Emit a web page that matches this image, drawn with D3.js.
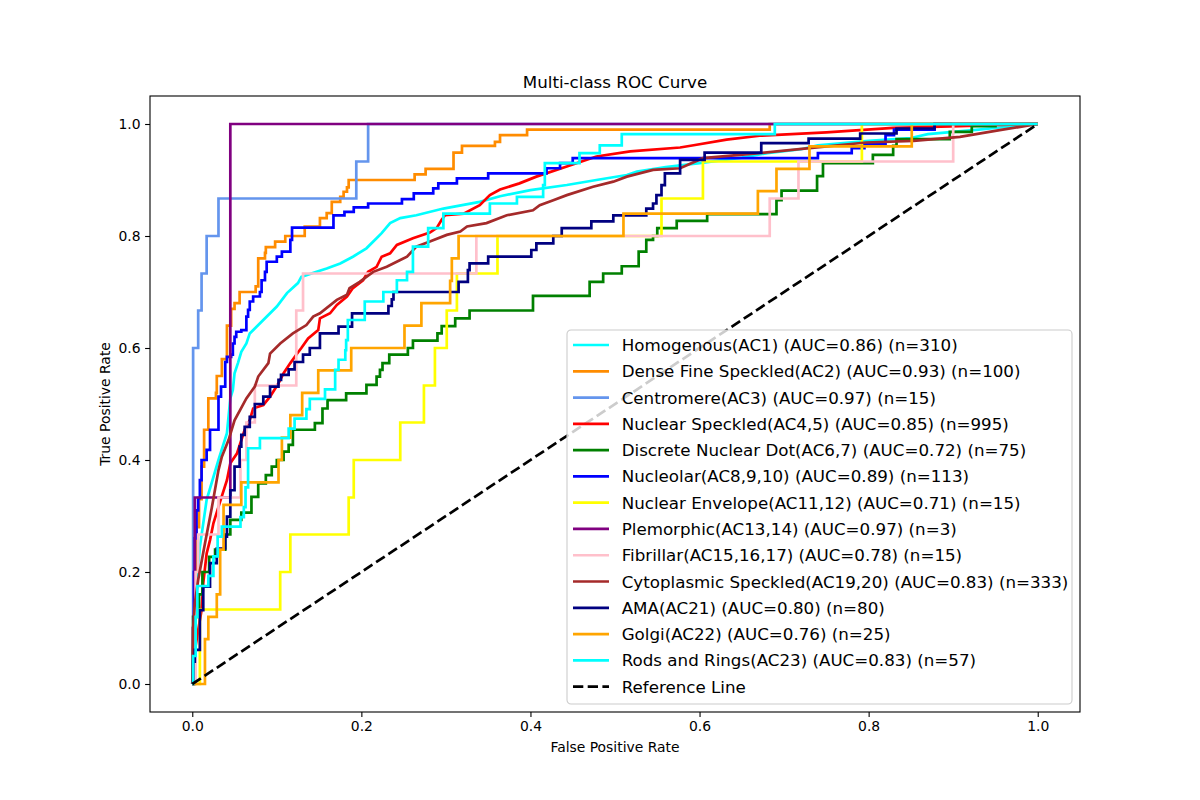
<!DOCTYPE html>
<html>
<head>
  <meta charset="utf-8">
  <title>Multi-class ROC Curve</title>
  <style>
    body { margin: 0; background: #fff; }
    text { font-family: "DejaVu Sans", sans-serif; fill: #000; }
    .axis path, .axis line { stroke: #000; stroke-width: 1.1; }
    .axis text { font-size: 13.9px; }
  </style>
</head>
<body>
  <svg width="1200" height="800"></svg>
  <script src="https://d3js.org/d3.v7.min.js"></script>
  <script>
    // class labels, AUC and sample counts as printed in the legend
    var classNames = ["Homogenous(AC1)", "Dense Fine Speckled(AC2)", "Centromere(AC3)",
      "Nuclear Speckled(AC4,5)", "Discrete Nuclear Dot(AC6,7)", "Nucleolar(AC8,9,10)",
      "Nuclear Envelope(AC11,12)", "Plemorphic(AC13,14)", "Fibrillar(AC15,16,17)",
      "Cytoplasmic Speckled(AC19,20)", "AMA(AC21)", "Golgi(AC22)", "Rods and Rings(AC23)"];
    var aucValues = [0.86, 0.93, 0.97, 0.85, 0.72, 0.89, 0.71, 0.97, 0.78, 0.83, 0.80, 0.76, 0.83];
    var sampleCounts = [310, 100, 15, 995, 75, 113, 15, 3, 15, 333, 80, 25, 57];
    var tickValues = [0.0, 0.2, 0.4, 0.6, 0.8, 1.0];

    // [fpr, tpr]
    var rocHomogenous = [[0,0],[0.001,0.06],[0.003,0.144],[0.009,0.245],[0.017,0.329],[0.031,0.4],[0.041,0.448],[0.045,0.51],[0.048,0.525],[0.05,0.555],[0.054,0.573],[0.058,0.593],[0.064,0.608],[0.068,0.626],[0.076,0.638],[0.084,0.65],[0.1,0.674],[0.112,0.698],[0.125,0.716],[0.129,0.727],[0.147,0.736],[0.159,0.742],[0.175,0.751],[0.19,0.763],[0.206,0.778],[0.218,0.796],[0.224,0.805],[0.234,0.823],[0.246,0.832],[0.265,0.837],[0.297,0.849],[0.34,0.861],[0.364,0.871],[0.4,0.882],[0.443,0.891],[0.478,0.9],[0.514,0.909],[0.526,0.915],[0.56,0.923],[0.6,0.93],[0.65,0.94],[0.68,0.948],[0.72,0.955],[0.74,0.962],[0.8,0.97],[0.85,0.975],[0.87,0.982],[0.93,0.99],[0.97,0.996],[1,1]];
    var rocDenseFine = [[0,0],[0.001,0.1],[0.003,0.2],[0.005,0.28],[0.008,0.33],[0.011,0.388],[0.014,0.454],[0.019,0.51],[0.028,0.52],[0.029,0.55],[0.035,0.58],[0.041,0.64],[0.046,0.67],[0.05,0.68],[0.056,0.7],[0.075,0.71],[0.078,0.76],[0.086,0.77],[0.087,0.78],[0.098,0.79],[0.11,0.8],[0.133,0.817],[0.151,0.832],[0.159,0.841],[0.165,0.861],[0.175,0.87],[0.179,0.879],[0.183,0.887],[0.185,0.9],[0.263,0.91],[0.276,0.92],[0.309,0.949],[0.319,0.961],[0.358,0.968],[0.364,0.98],[0.396,0.99],[0.683,1],[1,1]];
    var rocCentromere = [[0,0],[0.001,0.4],[0.001,0.6],[0.007,0.667],[0.011,0.733],[0.017,0.8],[0.031,0.867],[0.194,0.933],[0.208,1],[1,1]];
    var rocNuclearSpeckled = [[0,0],[0.002,0.05],[0.007,0.096],[0.011,0.132],[0.013,0.18],[0.017,0.233],[0.021,0.257],[0.025,0.287],[0.033,0.326],[0.041,0.364],[0.045,0.394],[0.053,0.412],[0.062,0.454],[0.068,0.471],[0.072,0.492],[0.084,0.498],[0.092,0.513],[0.102,0.537],[0.108,0.555],[0.116,0.573],[0.123,0.588],[0.129,0.6],[0.137,0.617],[0.149,0.632],[0.151,0.653],[0.163,0.662],[0.171,0.677],[0.183,0.692],[0.19,0.707],[0.202,0.721],[0.208,0.736],[0.218,0.745],[0.224,0.763],[0.234,0.769],[0.242,0.784],[0.261,0.796],[0.281,0.806],[0.289,0.814],[0.295,0.829],[0.299,0.837],[0.321,0.84],[0.34,0.855],[0.352,0.873],[0.364,0.883],[0.387,0.894],[0.407,0.906],[0.443,0.924],[0.478,0.942],[0.518,0.951],[0.577,0.958],[0.593,0.962],[0.632,0.972],[0.671,0.979],[0.75,0.985],[0.829,0.993],[0.908,0.996],[0.99,1],[1,1]];
    var rocDiscreteDot = [[0,0],[0.001,0.12],[0.008,0.16],[0.012,0.2],[0.02,0.227],[0.027,0.24],[0.039,0.267],[0.045,0.293],[0.058,0.306],[0.07,0.334],[0.078,0.358],[0.087,0.373],[0.094,0.388],[0.1,0.4],[0.108,0.415],[0.114,0.427],[0.119,0.454],[0.145,0.466],[0.154,0.492],[0.16,0.507],[0.182,0.519],[0.206,0.534],[0.218,0.549],[0.222,0.561],[0.225,0.573],[0.233,0.588],[0.255,0.6],[0.261,0.613],[0.29,0.626],[0.295,0.639],[0.311,0.653],[0.328,0.667],[0.403,0.693],[0.47,0.718],[0.486,0.733],[0.508,0.746],[0.528,0.772],[0.537,0.793],[0.545,0.8],[0.55,0.814],[0.573,0.827],[0.609,0.839],[0.691,0.864],[0.697,0.881],[0.739,0.907],[0.746,0.93],[0.805,0.945],[0.829,0.961],[0.833,0.973],[0.896,0.986],[0.922,0.996],[0.95,1],[1,1]];
    var rocNucleolar = [[0,0],[0.001,0.1],[0.002,0.2],[0.003,0.26],[0.005,0.31],[0.007,0.332],[0.009,0.364],[0.011,0.4],[0.017,0.418],[0.021,0.454],[0.031,0.513],[0.034,0.531],[0.039,0.575],[0.041,0.584],[0.046,0.588],[0.048,0.608],[0.05,0.62],[0.052,0.629],[0.058,0.632],[0.064,0.656],[0.066,0.668],[0.068,0.683],[0.072,0.692],[0.08,0.7],[0.082,0.721],[0.086,0.736],[0.088,0.754],[0.1,0.763],[0.106,0.772],[0.116,0.793],[0.118,0.815],[0.167,0.837],[0.18,0.843],[0.191,0.851],[0.208,0.858],[0.248,0.866],[0.262,0.876],[0.285,0.885],[0.291,0.894],[0.313,0.903],[0.35,0.912],[0.419,0.921],[0.435,0.93],[0.45,0.939],[0.74,0.948],[0.78,0.957],[0.795,0.965],[0.82,0.98],[0.83,0.99],[0.878,1],[1,1]];
    var rocNuclearEnvelope = [[0,0],[0.009,0.133],[0.104,0.2],[0.116,0.267],[0.185,0.333],[0.191,0.4],[0.246,0.467],[0.274,0.533],[0.287,0.6],[0.301,0.667],[0.313,0.733],[0.361,0.8],[0.555,0.867],[0.604,0.933],[0.792,1],[1,1]];
    var rocPlemorphic = [[0,0],[0.003,0.333],[0.045,1],[1,1]];
    var rocFibrillar = [[0,0],[0.004,0.2],[0.007,0.267],[0.031,0.333],[0.057,0.4],[0.064,0.467],[0.074,0.533],[0.123,0.667],[0.131,0.733],[0.336,0.8],[0.683,0.867],[0.717,0.933],[0.9,1],[1,1]];
    var rocCytoplasmic = [[0,0],[0.001,0.1],[0.003,0.144],[0.007,0.186],[0.015,0.251],[0.023,0.314],[0.031,0.382],[0.035,0.406],[0.043,0.436],[0.05,0.471],[0.064,0.51],[0.074,0.531],[0.078,0.549],[0.09,0.573],[0.092,0.59],[0.104,0.608],[0.119,0.626],[0.135,0.641],[0.143,0.656],[0.151,0.662],[0.171,0.686],[0.183,0.695],[0.186,0.707],[0.198,0.718],[0.214,0.736],[0.23,0.745],[0.246,0.757],[0.254,0.763],[0.265,0.781],[0.281,0.79],[0.301,0.802],[0.317,0.808],[0.325,0.817],[0.348,0.823],[0.372,0.837],[0.403,0.846],[0.411,0.855],[0.427,0.864],[0.443,0.873],[0.474,0.888],[0.498,0.897],[0.514,0.906],[0.545,0.918],[0.577,0.921],[0.604,0.939],[0.671,0.948],[0.73,0.957],[0.797,0.967],[0.853,0.97],[0.908,0.977],[0.955,0.989],[1,1]];
    var rocAMA = [[0,0],[0.001,0.04],[0.003,0.061],[0.009,0.132],[0.013,0.174],[0.021,0.216],[0.029,0.242],[0.039,0.263],[0.041,0.299],[0.045,0.346],[0.05,0.388],[0.056,0.424],[0.058,0.445],[0.062,0.459],[0.068,0.477],[0.074,0.5],[0.084,0.513],[0.092,0.531],[0.102,0.543],[0.105,0.552],[0.114,0.562],[0.121,0.575],[0.131,0.588],[0.139,0.6],[0.151,0.626],[0.173,0.638],[0.189,0.662],[0.232,0.675],[0.236,0.687],[0.238,0.7],[0.315,0.718],[0.326,0.739],[0.328,0.751],[0.35,0.763],[0.401,0.775],[0.407,0.787],[0.427,0.8],[0.437,0.814],[0.472,0.826],[0.498,0.837],[0.537,0.849],[0.545,0.858],[0.549,0.873],[0.555,0.891],[0.559,0.912],[0.577,0.936],[0.606,0.949],[0.673,0.966],[0.729,0.974],[0.79,0.983],[0.833,0.992],[0.878,1],[1,1]];
    var rocGolgi = [[0,0],[0.015,0.08],[0.019,0.12],[0.029,0.16],[0.033,0.24],[0.037,0.32],[0.058,0.36],[0.102,0.4],[0.106,0.44],[0.116,0.48],[0.13,0.52],[0.149,0.56],[0.188,0.6],[0.251,0.64],[0.271,0.68],[0.305,0.72],[0.307,0.76],[0.315,0.8],[0.51,0.84],[0.669,0.88],[0.691,0.92],[0.73,0.96],[0.851,1],[1,1]];
    var rocRodsRings = [[0,0],[0.001,0.05],[0.004,0.12],[0.006,0.175],[0.019,0.193],[0.025,0.228],[0.03,0.263],[0.035,0.281],[0.057,0.298],[0.061,0.316],[0.063,0.351],[0.066,0.421],[0.08,0.439],[0.114,0.456],[0.121,0.474],[0.135,0.491],[0.139,0.509],[0.157,0.526],[0.169,0.561],[0.173,0.579],[0.181,0.596],[0.182,0.614],[0.184,0.65],[0.204,0.683],[0.226,0.7],[0.242,0.721],[0.254,0.736],[0.261,0.781],[0.279,0.814],[0.297,0.84],[0.352,0.858],[0.384,0.87],[0.415,0.891],[0.417,0.93],[0.458,0.948],[0.482,0.962],[0.508,0.982],[0.689,1],[1,1]];
    var referenceLine = [[0,0],[1,1]];

    var rocSeries = [rocHomogenous, rocDenseFine, rocCentromere, rocNuclearSpeckled, rocDiscreteDot,
      rocNucleolar, rocNuclearEnvelope, rocPlemorphic, rocFibrillar, rocCytoplasmic, rocAMA, rocGolgi, rocRodsRings];

    // styling
    var colors = ["aqua", "darkorange", "cornflowerblue", "red", "green", "blue", "yellow",
      "purple", "pink", "brown", "navy", "orange", "aqua"];
    var smoothCurves = [0, 3, 9]; // many samples, drawn point to point

    var svg = d3.select("svg"),
      margin = { top: 96, right: 120, bottom: 88, left: 150 },
      width = +svg.attr("width") - margin.left - margin.right,
      height = +svg.attr("height") - margin.top - margin.bottom;

    svg.append("rect").attr("width", 1200).attr("height", 800).attr("fill", "#fff");

    var x = d3.scaleLinear().domain([-0.05, 1.05]).range([0, width]),
      y = d3.scaleLinear().domain([-0.05, 1.05]).range([height, 0]);

    var g = svg.append("g")
      .attr("transform", "translate(" + margin.left + "," + margin.top + ")");

    g.append("defs").append("clipPath").attr("id", "clip")
      .append("rect").attr("width", width).attr("height", height);

    var plot = g.append("g").attr("clip-path", "url(#clip)");

    rocSeries.forEach(function(pts, i) {
      var line = d3.line()
        .x(function(d) { return x(d[0]); })
        .y(function(d) { return y(d[1]); })
        .curve(smoothCurves.indexOf(i) >= 0 ? d3.curveLinear : d3.curveStepAfter);
      plot.append("path")
        .datum(pts)
        .attr("fill", "none")
        .attr("stroke", colors[i])
        .attr("stroke-width", 2.7)
        .attr("stroke-linejoin", "miter")
        .attr("d", line);
    });

    plot.append("path")
      .datum(referenceLine)
      .attr("fill", "none")
      .attr("stroke", "#000")
      .attr("stroke-width", 2.7)
      .attr("stroke-dasharray", "10.3,4.4")
      .attr("d", d3.line().x(function(d) { return x(d[0]); }).y(function(d) { return y(d[1]); }));

    // axes
    g.append("g")
      .attr("class", "axis")
      .attr("transform", "translate(0," + height + ")")
      .call(d3.axisBottom(x).tickValues(tickValues).tickFormat(d3.format(".1f"))
        .tickSize(4.9).tickSizeOuter(0).tickPadding(4.5));
    g.append("g")
      .attr("class", "axis")
      .call(d3.axisLeft(y).tickValues(tickValues).tickFormat(d3.format(".1f"))
        .tickSize(4.9).tickSizeOuter(0).tickPadding(4.5));
    g.selectAll(".axis .domain").remove();

    g.append("rect")
      .attr("width", width).attr("height", height)
      .attr("fill", "none").attr("stroke", "#000").attr("stroke-width", 1.1);

    svg.append("text")
      .attr("x", margin.left + width / 2).attr("y", 88)
      .attr("text-anchor", "middle").style("font-size", "16.7px")
      .text("Multi-class ROC Curve");
    svg.append("text")
      .attr("x", margin.left + width / 2).attr("y", 752)
      .attr("text-anchor", "middle").style("font-size", "13.9px")
      .text("False Positive Rate");
    svg.append("text")
      .attr("transform", "translate(110," + (margin.top + height / 2) + ") rotate(-90)")
      .attr("text-anchor", "middle").style("font-size", "13.9px")
      .text("True Positive Rate");

    // legend
    var legendItems = classNames.map(function(name, i) {
      return { label: name + " (AUC=" + aucValues[i].toFixed(2) + ") (n=" + sampleCounts[i] + ")", color: colors[i], dash: null };
    });
    legendItems.push({ label: "Reference Line", color: "#000", dash: "10.3,4.4" });

    var legend = svg.append("g").attr("transform", "translate(567,330)");
    legend.append("rect")
      .attr("width", 505).attr("height", 374).attr("rx", 4)
      .attr("fill", "#fff").attr("fill-opacity", 0.8)
      .attr("stroke", "#ccc").attr("stroke-width", 1.1);

    var rows = legend.selectAll(".row").data(legendItems).enter().append("g")
      .attr("transform", function(d, i) { return "translate(0," + (15 + i * 26.28) + ")"; });
    rows.append("line")
      .attr("x1", 6).attr("x2", 42)
      .attr("stroke", function(d) { return d.color; })
      .attr("stroke-width", 2.7)
      .attr("stroke-dasharray", function(d) { return d.dash; });
    rows.append("text")
      .attr("x", 54.7).attr("dy", "0.36em")
      .style("font-size", "16.7px")
      .text(function(d) { return d.label; });
  </script>
</body>
</html>
